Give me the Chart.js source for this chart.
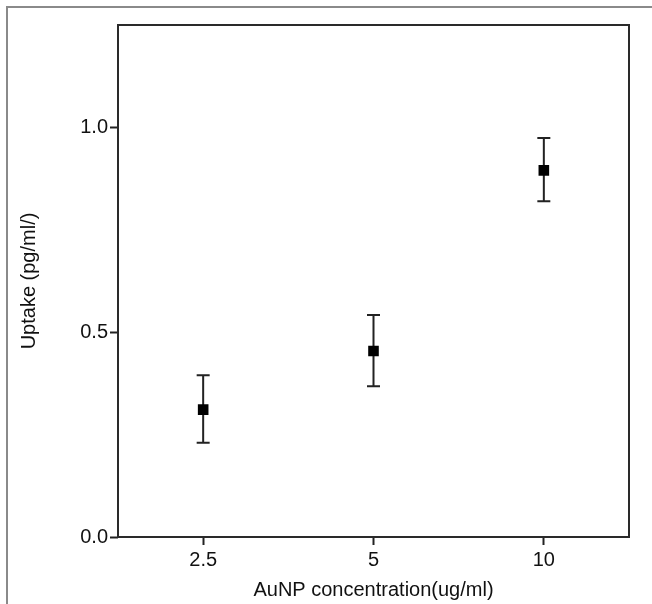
<!DOCTYPE html>
<html lang="en">
<head>
    <meta charset="UTF-8">
    <title>AuNP uptake</title>
    <script src="https://cdn.jsdelivr.net/npm/chart.js@4.4.1/dist/chart.umd.min.js"></script>
    <style>
        body {
            margin: 0;
            background-color: #ffffff;
        }
        #wrap {
            position: relative;
            width: 652px;
            height: 604px;
            overflow: hidden;
        }
        #frame {
            position: absolute;
            left: 6px;
            top: 6px;
            width: 700px;
            height: 700px;
            border-left: 2px solid #8a8a8a;
            border-top: 2px solid #8a8a8a;
        }
        #uptakeChart {
            position: absolute;
            left: 0;
            top: 0;
        }
    </style>
</head>
<body>
<div id="wrap">
    <div id="frame"></div>
    <canvas id="uptakeChart" width="652" height="604"></canvas>
</div>

<script>
    // concentration groups and measured uptake
    var categories = ['2.5', '5', '10'];
    var uptakeMean = [0.311, 0.454, 0.895];
    var errLow = [0.230, 0.368, 0.820];
    var errHigh = [0.395, 0.542, 0.974];
    var yTicks = [0, 0.5, 1.0];

    var fontFamily = '"Liberation Sans", Arial, sans-serif';
    var ink = '#222222';

    // vertical error bars with caps, drawn under the markers
    var errorBars = {
        id: 'errorBars',
        beforeDatasetsDraw: function(chart) {
            var ctx = chart.ctx;
            var xs = chart.scales.x;
            var ys = chart.scales.y;
            ctx.save();
            ctx.strokeStyle = ink;
            ctx.lineWidth = 2;
            for (var i = 0; i < categories.length; i++) {
                var x = xs.getPixelForValue(i);
                var top = ys.getPixelForValue(errHigh[i]);
                var bot = ys.getPixelForValue(errLow[i]);
                ctx.beginPath();
                ctx.moveTo(x, top);
                ctx.lineTo(x, bot);
                ctx.moveTo(x - 6.5, top);
                ctx.lineTo(x + 6.5, top);
                ctx.moveTo(x - 6.5, bot);
                ctx.lineTo(x + 6.5, bot);
                ctx.stroke();
            }
            ctx.restore();
        }
    };

    // box round the plotting area
    var plotBox = {
        id: 'plotBox',
        afterDraw: function(chart) {
            var a = chart.chartArea;
            var ctx = chart.ctx;
            ctx.save();
            ctx.strokeStyle = '#2a2a2a';
            ctx.lineWidth = 2;
            ctx.strokeRect(a.left, a.top, a.right - a.left, a.bottom - a.top);
            ctx.restore();
        }
    };

    new Chart(document.getElementById('uptakeChart'), {
        type: 'line',
        data: {
            labels: categories,
            datasets: [{
                data: uptakeMean,
                showLine: false,
                pointStyle: 'rect',
                pointRadius: 7.5,
                pointHoverRadius: 7.5,
                backgroundColor: '#000000',
                borderColor: '#000000',
                borderWidth: 0
            }]
        },
        options: {
            responsive: false,
            animation: false,
            events: [],
            layout: {
                padding: { left: 0, top: 25, right: 23, bottom: 0 }
            },
            plugins: {
                legend: { display: false },
                tooltip: { enabled: false }
            },
            scales: {
                x: {
                    type: 'category',
                    offset: true,
                    afterFit: function(s) { s.height = 67; },
                    grid: {
                        display: true,
                        drawOnChartArea: false,
                        offset: false,
                        tickLength: 8,
                        tickWidth: 2,
                        color: ink
                    },
                    border: { display: false },
                    ticks: {
                        color: '#111111',
                        padding: 3,
                        maxRotation: 0,
                        font: { family: fontFamily, size: 20 }
                    },
                    title: {
                        display: true,
                        text: 'AuNP concentration(ug/ml)',
                        color: '#111111',
                        padding: { top: 0, bottom: 2 },
                        font: { family: fontFamily, size: 20 }
                    }
                },
                y: {
                    min: 0,
                    max: 1.25,
                    afterFit: function(s) { s.width = 118; },
                    afterBuildTicks: function(s) {
                        s.ticks = yTicks.map(function(v) { return { value: v }; });
                    },
                    grid: {
                        display: true,
                        drawOnChartArea: false,
                        tickLength: 8,
                        tickWidth: 2,
                        color: ink
                    },
                    border: { display: false },
                    ticks: {
                        color: '#111111',
                        padding: 2,
                        font: { family: fontFamily, size: 20 },
                        callback: function(v) { return Number(v).toFixed(1); }
                    },
                    title: {
                        display: true,
                        text: 'Uptake (pg/ml/)',
                        color: '#111111',
                        padding: { top: 17, bottom: 0 },
                        font: { family: fontFamily, size: 20 }
                    }
                }
            }
        },
        plugins: [errorBars, plotBox]
    });
</script>
</body>
</html>
